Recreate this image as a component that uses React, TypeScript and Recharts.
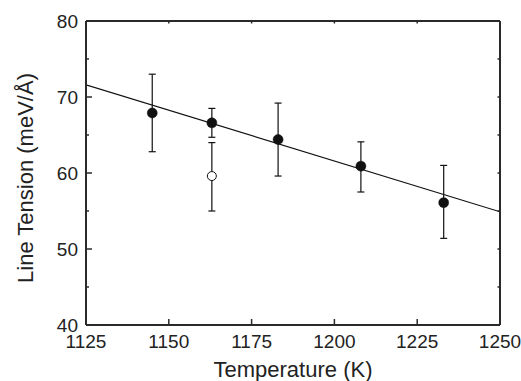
import React from 'react';
import { ComposedChart, XAxis, YAxis, Scatter, Line, ErrorBar, Label } from 'recharts';

// Filled points (measured)
const temperatures = [1145, 1163, 1183, 1208, 1233];
const tensions = [67.9, 66.6, 64.4, 60.9, 56.1];
const upperBounds = [73.0, 68.5, 69.2, 64.1, 61.0];
const lowerBounds = [62.8, 64.7, 59.6, 57.5, 51.4];

// Open point
const openTemperatures = [1163];
const openTensions = [59.6];
const openUpper = [64.0];
const openLower = [55.0];

// Linear fit end points
const fitTemperatures = [1125, 1250];
const fitTensions = [71.6, 54.9];

const xTicks = [1125, 1150, 1175, 1200, 1225, 1250];
const yTicks = [40, 45, 50, 55, 60, 65, 70, 75, 80];

const FONT = '"Liberation Sans", Arial, Helvetica, sans-serif';
const AX = '#2a2a2a';
const TXT = '#222';

const filledData = temperatures.map((t, i) => ({
  t,
  v: tensions[i],
  err: [tensions[i] - lowerBounds[i], upperBounds[i] - tensions[i]],
}));
const openData = openTemperatures.map((t, i) => ({
  t,
  v: openTensions[i],
  err: [openTensions[i] - openLower[i], openUpper[i] - openTensions[i]],
}));
const fitData = fitTemperatures.map((t, i) => ({ t, v: fitTensions[i] }));

const BottomTick = (props: any) => {
  const { x, y, payload } = props;
  const v = payload.value;
  const inner = v !== 1125 && v !== 1250;
  return (
    <g>
      {inner && <line x1={x} y1={y} x2={x} y2={y - 6} stroke={AX} strokeWidth={1.5} />}
      <text x={x} y={y + 23} textAnchor="middle" fontSize={19} fill={TXT} fontFamily={FONT}>
        {v}
      </text>
    </g>
  );
};

const TopTick = (props: any) => {
  const { x, y, payload } = props;
  const v = payload.value;
  if (v === 1125 || v === 1250) return <g />;
  return <line x1={x} y1={y} x2={x} y2={y + 2.5} stroke={AX} strokeWidth={1.5} />;
};

const LeftTick = (props: any) => {
  const { x, y, payload } = props;
  const v = payload.value;
  const major = v % 10 === 0;
  const edge = v === 40 || v === 80;
  return (
    <g>
      {!edge && <line x1={x} y1={y} x2={x + (major ? 6 : 3)} y2={y} stroke={AX} strokeWidth={1.5} />}
      {major && (
        <text x={x - 8} y={y} dy="0.35em" textAnchor="end" fontSize={19} fill={TXT} fontFamily={FONT}>
          {v}
        </text>
      )}
    </g>
  );
};

const RightTick = (props: any) => {
  const { x, y, payload } = props;
  const v = payload.value;
  if (v === 40 || v === 80) return <g />;
  return <line x1={x} y1={y} x2={x - 2.5} y2={y} stroke={AX} strokeWidth={1.5} />;
};

const FilledDot = (props: any) => {
  const { cx, cy } = props;
  return <circle cx={cx} cy={cy} r={5} fill="#111" stroke="#111" strokeWidth={0.5} />;
};

const OpenDot = (props: any) => {
  const { cx, cy } = props;
  return <circle cx={cx} cy={cy} r={4.5} fill="#fff" stroke="#111" strokeWidth={1} />;
};

const XTitle = (props: any) => {
  const vb = props.viewBox;
  return (
    <text x={vb.x + vb.width / 2} y={376.5} textAnchor="middle" fontSize={22} fill={TXT} fontFamily={FONT}>
      Temperature (K)
    </text>
  );
};

const YTitle = (props: any) => {
  const vb = props.viewBox;
  const cx = 33;
  const cy = vb.y + vb.height / 2 + 5;
  return (
    <text
      x={cx}
      y={cy}
      transform={`rotate(-90, ${cx}, ${cy})`}
      textAnchor="middle"
      fontSize={22}
      fill={TXT}
      fontFamily={FONT}
    >
      Line Tension (meV/Å)
    </text>
  );
};

export default function App() {
  return (
    <div style={{ position: 'absolute', left: 0, top: 0, width: 521, height: 381, background: '#fff' }}>
      <ComposedChart
        width={521}
        height={381}
        margin={{ top: 20, right: 20, bottom: 26, left: 26 }}
        style={{ fontFamily: FONT }}
      >
        <XAxis
          dataKey="t"
          type="number"
          domain={[1125, 1250]}
          ticks={xTicks}
          allowDataOverflow
          height={30}
          tickSize={0}
          tickMargin={0}
          tickLine={false}
          tick={<BottomTick />}
          axisLine={{ stroke: AX, strokeWidth: 2 }}
          interval={0}
        >
          <Label content={<XTitle />} />
        </XAxis>
        <XAxis
          xAxisId="top"
          dataKey="t"
          orientation="top"
          type="number"
          domain={[1125, 1250]}
          ticks={xTicks}
          allowDataOverflow
          height={1}
          tickSize={0}
          tickMargin={0}
          tickLine={false}
          tick={<TopTick />}
          axisLine={{ stroke: AX, strokeWidth: 2 }}
          interval={0}
        />
        <YAxis
          type="number"
          domain={[40, 80]}
          ticks={yTicks}
          allowDataOverflow
          width={60}
          tickSize={0}
          tickMargin={0}
          tickLine={false}
          tick={<LeftTick />}
          axisLine={{ stroke: AX, strokeWidth: 2 }}
          interval={0}
        >
          <Label content={<YTitle />} />
        </YAxis>
        <YAxis
          yAxisId="right"
          orientation="right"
          type="number"
          domain={[40, 80]}
          ticks={yTicks}
          allowDataOverflow
          width={1}
          tickSize={0}
          tickMargin={0}
          tickLine={false}
          tick={<RightTick />}
          axisLine={{ stroke: AX, strokeWidth: 2 }}
          interval={0}
        />
        {/* invisible series that binds the frame axes (top / right) */}
        <Line
          xAxisId="top"
          yAxisId="right"
          data={fitData}
          dataKey="v"
          type="linear"
          stroke="none"
          dot={false}
          activeDot={false}
          legendType="none"
          isAnimationActive={false}
        />
        <Line
          data={fitData}
          dataKey="v"
          type="linear"
          stroke="#111"
          strokeWidth={1.2}
          dot={false}
          activeDot={false}
          isAnimationActive={false}
        />
        <Scatter data={openData} dataKey="v" shape={<OpenDot />} isAnimationActive={false}>
          <ErrorBar dataKey="err" direction="y" width={3.5} stroke="#111" strokeWidth={1.2} isAnimationActive={false} />
        </Scatter>
        <Scatter data={filledData} dataKey="v" shape={<FilledDot />} isAnimationActive={false}>
          <ErrorBar dataKey="err" direction="y" width={3.5} stroke="#111" strokeWidth={1.2} isAnimationActive={false} />
        </Scatter>
      </ComposedChart>
    </div>
  );
}
